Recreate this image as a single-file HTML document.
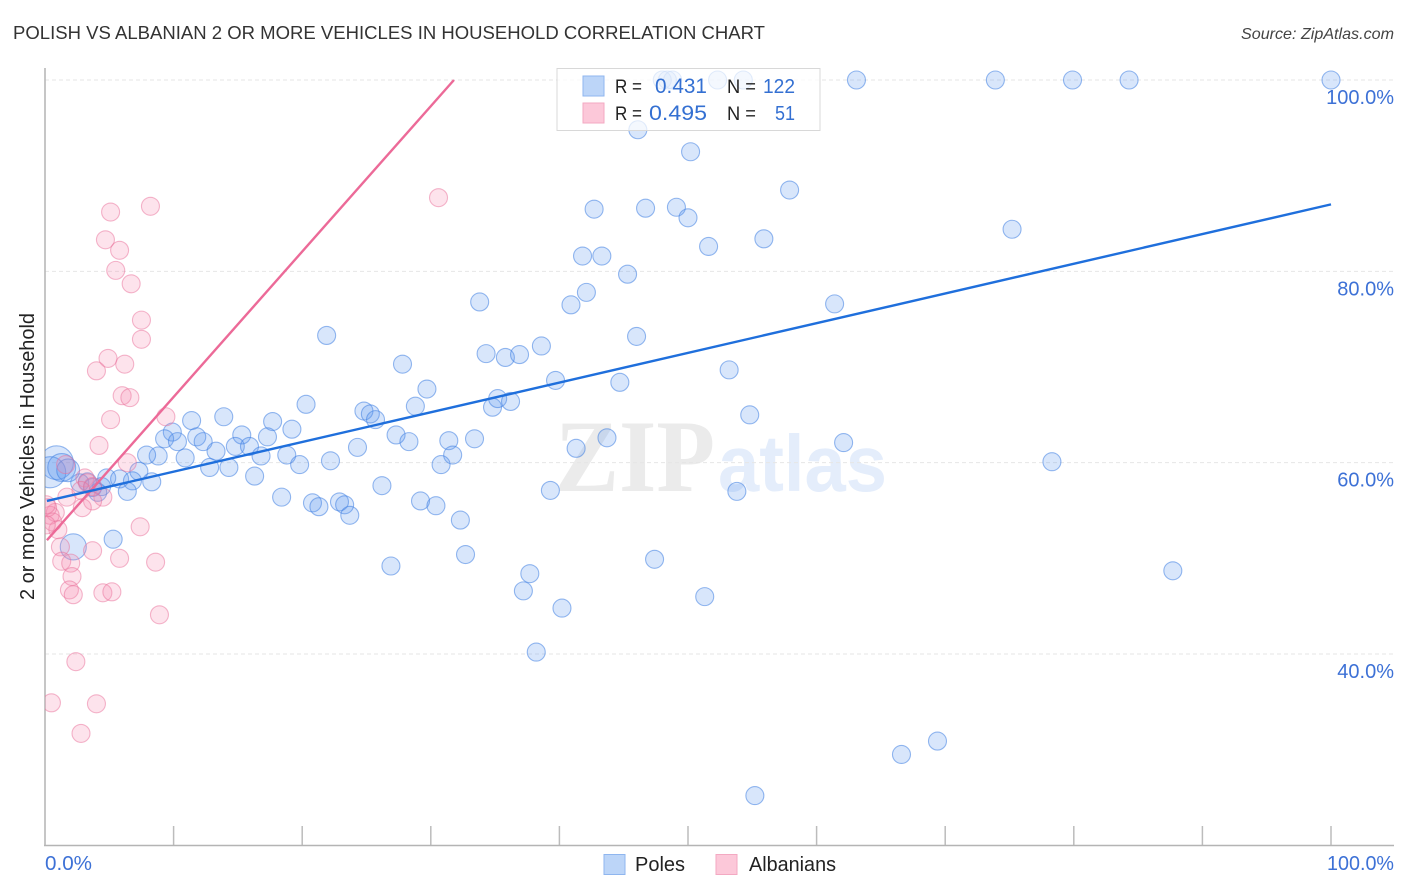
<!DOCTYPE html>
<html lang="en">
<head>
<meta charset="utf-8">
<title>Polish vs Albanian 2 or more Vehicles in Household Correlation Chart</title>
<style>
html,body{margin:0;padding:0;background:#fff;width:1406px;height:892px;overflow:hidden}
svg{display:block;font-family:"Liberation Sans",sans-serif}
</style>
</head>
<body>
<svg id="chart" xmlns="http://www.w3.org/2000/svg" width="1406" height="892" viewBox="0 0 1406 892">
  <defs><clipPath id="plot-clip"><rect x="45" y="60" width="1349" height="785"/></clipPath></defs>
  <text x="13" y="39" font-size="18.5" fill="#333" textLength="752" lengthAdjust="spacingAndGlyphs">POLISH VS ALBANIAN 2 OR MORE VEHICLES IN HOUSEHOLD CORRELATION CHART</text>
  <text x="1394" y="39" font-size="16" font-style="italic" fill="#444" text-anchor="end" textLength="153" lengthAdjust="spacingAndGlyphs">Source: ZipAtlas.com</text>
  <text x="555" y="491" font-family="'Liberation Serif',serif" font-size="103" font-weight="700" fill="#ebebeb" textLength="160" lengthAdjust="spacingAndGlyphs">ZIP</text>
  <text x="718" y="491" font-size="80" font-weight="700" fill="#e4edfb" textLength="169" lengthAdjust="spacingAndGlyphs">atlas</text>
  <g id="grid"></g>
  <g id="ticks"></g>
  <line x1="45" y1="68" x2="45" y2="845" stroke="#b4b4b4" stroke-width="1.5"/>
  <line x1="44" y1="845.5" x2="1394" y2="845.5" stroke="#b4b4b4" stroke-width="1.5"/>
  <g id="poles" clip-path="url(#plot-clip)"></g>
  <g id="albanians" clip-path="url(#plot-clip)"></g>
  <g id="trends"></g>
  <g id="ylabels"></g>
  <text transform="translate(34,456.5) rotate(-90)" font-size="20" fill="#222" text-anchor="middle" textLength="287" lengthAdjust="spacingAndGlyphs">2 or more Vehicles in Household</text>
  <text x="45" y="870" font-size="20" fill="#3d71d6" textLength="47" lengthAdjust="spacingAndGlyphs">0.0%</text>
  <text x="1394" y="870" font-size="20" fill="#3d71d6" text-anchor="end" textLength="67" lengthAdjust="spacingAndGlyphs">100.0%</text>

  <g>
    <rect x="557" y="68.5" width="263" height="62" fill="#fff" fill-opacity="0.72" stroke="#d8d8d8" stroke-width="1"/>
    <rect x="583" y="76" width="21" height="20" fill="#bcd5f8" stroke="#8fb6ef" stroke-width="1"/>
    <rect x="583" y="103" width="21" height="20" fill="#fcc8d9" stroke="#f3a9c2" stroke-width="1"/>
    <text x="615" y="93" font-size="19" fill="#222" textLength="27" lengthAdjust="spacingAndGlyphs">R =</text>
    <text x="707" y="93" font-size="21" fill="#3470d2" text-anchor="end" textLength="52" lengthAdjust="spacingAndGlyphs">0.431</text>
    <text x="727" y="93" font-size="19" fill="#222" textLength="29" lengthAdjust="spacingAndGlyphs">N =</text>
    <text x="795" y="93" font-size="20" fill="#3470d2" text-anchor="end" textLength="32" lengthAdjust="spacingAndGlyphs">122</text>
    <text x="615" y="120" font-size="19" fill="#222" textLength="27" lengthAdjust="spacingAndGlyphs">R =</text>
    <text x="707" y="120" font-size="21" fill="#3470d2" text-anchor="end" textLength="58" lengthAdjust="spacingAndGlyphs">0.495</text>
    <text x="727" y="120" font-size="19" fill="#222" textLength="29" lengthAdjust="spacingAndGlyphs">N =</text>
    <text x="795" y="120" font-size="20" fill="#3470d2" text-anchor="end" textLength="20" lengthAdjust="spacingAndGlyphs">51</text>
  </g>

  <g>
    <rect x="604" y="854.5" width="21" height="20" fill="#bcd5f8" stroke="#8fb6ef" stroke-width="1"/>
    <text x="635" y="871" font-size="20" fill="#222" textLength="50" lengthAdjust="spacingAndGlyphs">Poles</text>
    <rect x="716" y="854.5" width="21" height="20" fill="#fcc8d9" stroke="#f3a9c2" stroke-width="1"/>
    <text x="749" y="871" font-size="20" fill="#222" textLength="87" lengthAdjust="spacingAndGlyphs">Albanians</text>
  </g>
</svg>
<script>
const yTickValues = [100, 80, 60, 40];
const yTickLabels = ["100.0%", "80.0%", "60.0%", "40.0%"];
const xTickValues = [10, 20, 30, 40, 50, 60, 70, 80, 90, 100];

const polesX = [48.0,48.4,48.8,52.3,54.3,63.1,73.9,79.9,84.3,100,
46.1,50.2,57.9,42.7,46.7,49.1,50.0,51.6,55.9,75.2,
41.8,43.3,45.3,42.1,40.9,33.8,61.4,21.9,46.0,34.3,
35.8,36.9,38.6,27.8,53.2,39.7,44.7,29.7,20.3,28.8,
34.8,35.2,36.2,24.8,25.3,25.7,54.8,13.9,11.4,17.7,
19.2,9.9,9.3,10.3,11.8,15.3,17.3,12.3,13.3,14.8,
15.9,16.8,18.8,24.3,27.3,28.3,31.4,33.4,43.7,41.3,
62.1,31.7,30.8,22.2,19.8,10.9,8.8,7.9,12.8,14.3,
7.3,16.3,78.3,26.2,39.3,53.8,18.4,20.8,21.3,22.9,
23.3,23.7,29.2,30.4,32.3,5.3,32.7,26.9,47.4,37.7,
37.2,40.2,51.3,87.7,38.2,69.4,66.6,55.2,
4.8,5.8,6.8,8.3,6.4,3.3,2.7,4.4,4.1,3.7,
0.9,0.4,1.3,1.8,2.2];
const polesY = [100,100,100,100,100,100,100,100,100,100,
94.8,92.5,88.5,86.5,86.6,86.7,85.6,82.6,83.4,84.4,
81.6,81.6,79.7,77.8,76.5,76.8,76.6,73.3,73.2,71.4,
71.0,71.3,72.2,70.3,69.7,68.6,68.4,67.7,66.1,65.9,
65.8,66.7,66.4,65.4,65.1,64.5,65.0,64.8,64.4,64.3,
63.5,63.2,62.5,62.2,62.7,62.9,62.7,62.2,61.2,61.7,
61.7,60.7,60.8,61.6,62.9,62.2,62.3,62.5,62.6,61.5,
62.1,60.8,59.8,60.2,59.8,60.5,60.7,60.8,59.5,59.5,
59.1,58.6,60.1,57.6,57.1,57.0,56.4,55.8,55.4,55.9,
55.6,54.5,56.0,55.5,54.0,52.0,50.4,49.2,49.9,48.4,
46.6,44.8,46.0,48.7,40.2,30.9,29.5,25.2,
58.4,58.3,58.1,58.0,57.0,58.0,57.9,57.5,56.9,57.4,
60.0,59.0,59.5,59.2,51.2];
const polesWeight = [1,1,1,1,1,1,1,1,1,1,
1,1,1,1,1,1,1,1,1,1,
1,1,1,1,1,1,1,1,1,1,
1,1,1,1,1,1,1,1,1,1,
1,1,1,1,1,1,1,1,1,1,
1,1,1,1,1,1,1,1,1,1,
1,1,1,1,1,1,1,1,1,1,
1,1,1,1,1,1,1,1,1,1,
1,1,1,1,1,1,1,1,1,1,
1,1,1,1,1,1,1,1,1,1,
1,1,1,1,1,1,1,1,
1,1,1,1,1,1,1,1,1,1,
3.5,3,2.4,1.6,2.1];

const albaniansX = [5.1,8.2,30.6,4.7,5.8,5.5,6.7,7.5,7.5,4.9,
6.2,4.0,6.0,6.6,5.1,9.4,4.2,6.4,3.1,3.3,
3.7,4.5,3.7,2.9,1.7,0.8,0.4,0.2,1.0,0.6,
0.1,1.2,3.7,7.4,5.8,8.6,1.3,2.0,2.1,1.9,
2.2,4.5,5.2,8.9,2.4,0.5,4.0,2.8,2.8,1.6,0.1];
const albaniansY = [86.2,86.8,87.7,83.3,82.2,80.1,78.7,74.9,72.9,70.9,
70.3,69.6,67.0,66.8,64.5,64.8,61.8,60.0,58.4,57.9,
57.5,56.4,56.0,55.3,56.4,54.8,54.5,55.3,53.0,53.8,
53.5,51.2,50.8,53.3,50.0,49.6,49.7,49.5,48.1,46.7,
46.2,46.4,46.5,44.1,39.2,34.9,34.8,31.7,57.1,59.8,55.6];

const polesTrendX = [0.15, 100];
const polesTrendY = [56.0, 87.0];
const albaniansTrendX = [0.15, 31.8];
const albaniansTrendY = [51.9, 100];

const NS = "http://www.w3.org/2000/svg";
function xScale(v) { return 45 + v * 12.86; }
function yScale(v) { return 80 + (100 - v) * 9.567; }
function rScale(w) { return 9 * Math.sqrt(w); }
function make(tag, parent, attrs) {
  const el = document.createElementNS(NS, tag);
  for (const k in attrs) el.setAttribute(k, attrs[k]);
  document.getElementById(parent).appendChild(el);
  return el;
}

yTickValues.forEach(function (v, i) {
  const line = make("line", "grid", {x1: 45, x2: 1394, y1: yScale(v), y2: yScale(v), stroke: "#e6e6e6", "stroke-width": 1, "stroke-dasharray": "4 3"});
  
  
  const label = make("text", "ylabels", {x: 1394, y: yScale(v) + 24, "font-size": 20, fill: "#3d71d6", "text-anchor": "end"});
  label.textContent = yTickLabels[i];
  
  
});

xTickValues.forEach(function (v) {
  const tick = make("line", "ticks", {x1: xScale(v), x2: xScale(v), y1: 826, y2: 845, stroke: "#bcbcbc", "stroke-width": 1.5});
  
  
});

polesX.forEach(function (v, i) {
  const c = make("circle", "poles", {cx: xScale(v), cy: yScale(polesY[i]), r: rScale(polesWeight[i]), fill: "#5a97ee", "fill-opacity": 0.24, stroke: "#3f80e2", "stroke-opacity": 0.55, "stroke-width": 1.1});
  
  
});

albaniansX.forEach(function (v, i) {
  const c = make("circle", "albanians", {cx: xScale(v), cy: yScale(albaniansY[i]), r: 9, fill: "#f58aae", "fill-opacity": 0.24, stroke: "#ea6f99", "stroke-opacity": 0.5, "stroke-width": 1.1});
  
  
});

const albaniansLine = make("line", "trends", {x1: xScale(albaniansTrendX[0]), y1: yScale(albaniansTrendY[0]), x2: xScale(albaniansTrendX[1]), y2: yScale(albaniansTrendY[1]), stroke: "#ec6a98", "stroke-width": 2.4});



const polesLine = make("line", "trends", {x1: xScale(polesTrendX[0]), y1: yScale(polesTrendY[0]), x2: xScale(polesTrendX[1]), y2: yScale(polesTrendY[1]), stroke: "#1f6fdc", "stroke-width": 2.4});


</script>
</body>
</html>
